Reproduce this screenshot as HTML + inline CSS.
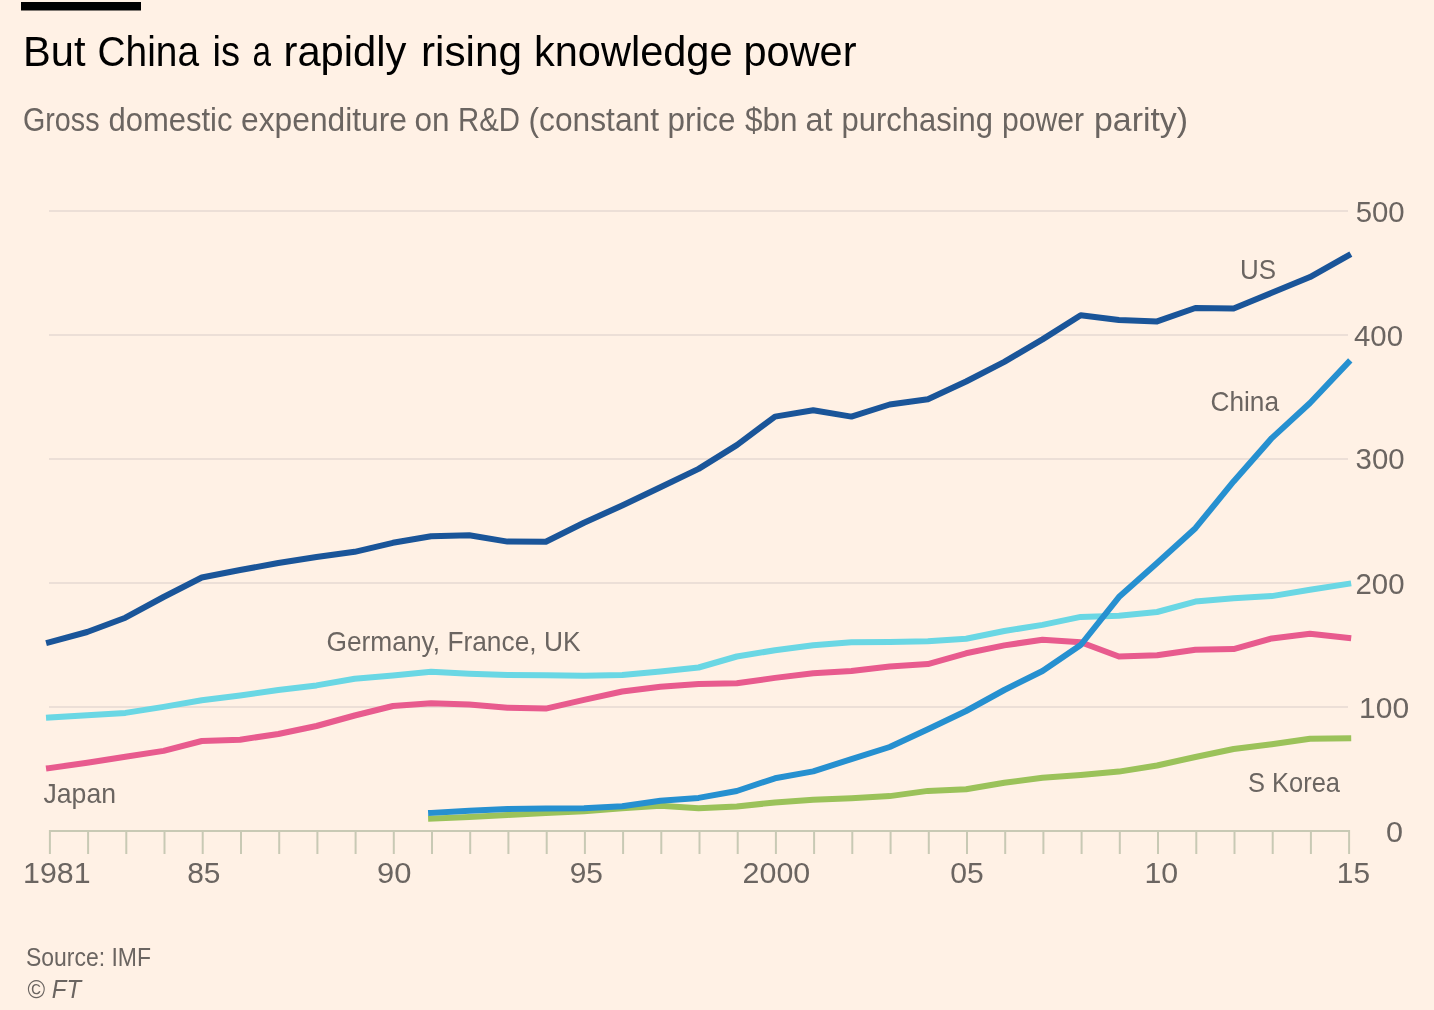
<!DOCTYPE html>
<html><head><meta charset="utf-8"><style>
html,body{margin:0;padding:0;background:#fff1e5;width:1434px;height:1010px;overflow:hidden}
svg{display:block;will-change:transform}
</style></head><body>
<svg width="1434" height="1010" viewBox="0 0 1434 1010" font-family="Liberation Sans">
<rect x="0" y="0" width="1434" height="1010" fill="#fff1e5"/>
<rect x="21" y="2" width="120" height="8.5" fill="#000"/>
<g stroke="#e6d8d2" stroke-width="1.6"><line x1="49" y1="707.0" x2="1348" y2="707.0"/><line x1="49" y1="583.0" x2="1348" y2="583.0"/><line x1="49" y1="459.0" x2="1348" y2="459.0"/><line x1="49" y1="335.0" x2="1348" y2="335.0"/><line x1="49" y1="211.0" x2="1348" y2="211.0"/></g>
<g stroke="#c8c9b4" stroke-width="2"><line x1="49.9" y1="830" x2="49.9" y2="854"/><line x1="88.1" y1="830" x2="88.1" y2="854"/><line x1="126.3" y1="830" x2="126.3" y2="854"/><line x1="164.5" y1="830" x2="164.5" y2="854"/><line x1="202.7" y1="830" x2="202.7" y2="854"/><line x1="241.0" y1="830" x2="241.0" y2="854"/><line x1="279.2" y1="830" x2="279.2" y2="854"/><line x1="317.4" y1="830" x2="317.4" y2="854"/><line x1="355.6" y1="830" x2="355.6" y2="854"/><line x1="393.8" y1="830" x2="393.8" y2="854"/><line x1="432.0" y1="830" x2="432.0" y2="854"/><line x1="470.2" y1="830" x2="470.2" y2="854"/><line x1="508.4" y1="830" x2="508.4" y2="854"/><line x1="546.7" y1="830" x2="546.7" y2="854"/><line x1="584.9" y1="830" x2="584.9" y2="854"/><line x1="623.1" y1="830" x2="623.1" y2="854"/><line x1="661.3" y1="830" x2="661.3" y2="854"/><line x1="699.5" y1="830" x2="699.5" y2="854"/><line x1="737.7" y1="830" x2="737.7" y2="854"/><line x1="775.9" y1="830" x2="775.9" y2="854"/><line x1="814.1" y1="830" x2="814.1" y2="854"/><line x1="852.3" y1="830" x2="852.3" y2="854"/><line x1="890.6" y1="830" x2="890.6" y2="854"/><line x1="928.8" y1="830" x2="928.8" y2="854"/><line x1="967.0" y1="830" x2="967.0" y2="854"/><line x1="1005.2" y1="830" x2="1005.2" y2="854"/><line x1="1043.4" y1="830" x2="1043.4" y2="854"/><line x1="1081.6" y1="830" x2="1081.6" y2="854"/><line x1="1119.8" y1="830" x2="1119.8" y2="854"/><line x1="1158.0" y1="830" x2="1158.0" y2="854"/><line x1="1196.3" y1="830" x2="1196.3" y2="854"/><line x1="1234.5" y1="830" x2="1234.5" y2="854"/><line x1="1272.7" y1="830" x2="1272.7" y2="854"/><line x1="1310.9" y1="830" x2="1310.9" y2="854"/><line x1="1349.1" y1="830" x2="1349.1" y2="854"/><line x1="49" y1="831" x2="1350" y2="831"/></g>
<g fill="none" stroke-width="6" stroke-linejoin="round" stroke-linecap="square">
<polyline stroke="#9bc25a" points="431.1,818.7 469.3,817.1 507.5,815.0 545.8,812.9 584.0,811.2 622.2,808.3 660.4,805.8 698.6,808.2 736.8,806.6 775.0,802.4 813.2,799.7 851.4,798.2 889.7,796.1 927.9,790.9 966.1,789.2 1004.3,782.8 1042.5,777.8 1080.7,774.9 1118.9,771.6 1157.1,765.5 1195.4,757.0 1233.6,749.0 1271.8,744.2 1310.0,738.7 1348.2,738.2"/>
<polyline stroke="#e85b8e" points="49.0,768.1 87.2,762.8 125.4,756.8 163.6,750.9 201.8,741.0 240.1,739.7 278.3,734.0 316.5,726.0 354.7,715.5 392.9,706.0 431.1,703.3 469.3,704.6 507.5,707.7 545.8,708.6 584.0,699.8 622.2,691.5 660.4,686.7 698.6,683.9 736.8,683.2 775.0,677.9 813.2,673.3 851.4,671.0 889.7,666.4 927.9,664.1 966.1,653.3 1004.3,645.4 1042.5,639.7 1080.7,642.2 1118.9,656.5 1157.1,655.3 1195.4,649.7 1233.6,649.1 1271.8,638.4 1310.0,633.7 1348.2,638.0"/>
<polyline stroke="#6ad7e4" points="49.0,717.6 87.2,715.2 125.4,712.9 163.6,706.9 201.8,700.2 240.1,695.5 278.3,690.0 316.5,685.4 354.7,678.7 392.9,675.4 431.1,671.8 469.3,673.7 507.5,674.9 545.8,675.3 584.0,675.8 622.2,674.9 660.4,671.5 698.6,667.5 736.8,656.5 775.0,650.3 813.2,645.3 851.4,642.2 889.7,642.0 927.9,641.2 966.1,638.8 1004.3,631.0 1042.5,624.9 1080.7,616.9 1118.9,615.7 1157.1,612.0 1195.4,601.6 1233.6,598.2 1271.8,596.1 1310.0,589.7 1348.2,583.8"/>
<polyline stroke="#1a5599" points="49.0,642.3 87.2,632.0 125.4,617.7 163.6,597.0 201.8,577.5 240.1,570.0 278.3,563.0 316.5,557.0 354.7,551.8 392.9,542.8 431.1,536.3 469.3,535.3 507.5,541.6 545.8,541.8 584.0,522.8 622.2,505.4 660.4,487.3 698.6,468.9 736.8,445.1 775.0,416.6 813.2,410.2 851.4,416.6 889.7,404.5 927.9,399.3 966.1,381.5 1004.3,361.8 1042.5,339.4 1080.7,315.2 1118.9,320.0 1157.1,321.4 1195.4,308.0 1233.6,308.5 1271.8,292.8 1310.0,277.1 1348.2,255.5"/>
<polyline stroke="#2690d0" points="431.1,812.9 469.3,810.8 507.5,809.1 545.8,808.5 584.0,808.3 622.2,806.2 660.4,800.8 698.6,797.9 736.8,791.0 775.0,778.3 813.2,771.4 851.4,759.1 889.7,747.0 927.9,729.2 966.1,711.0 1004.3,690.0 1042.5,671.0 1080.7,645.0 1118.9,597.1 1157.1,563.0 1195.4,528.2 1233.6,481.4 1271.8,438.1 1310.0,403.0 1348.2,362.6"/>
</g>
<text x="23.0" y="66.4" font-size="42.3" fill="#000000" text-anchor="start" textLength="62.5" lengthAdjust="spacingAndGlyphs">But</text><text x="97.5" y="66.4" font-size="42.3" fill="#000000" text-anchor="start" textLength="101.5" lengthAdjust="spacingAndGlyphs">China</text><text x="212.5" y="66.4" font-size="42.3" fill="#000000" text-anchor="start" textLength="27.5" lengthAdjust="spacingAndGlyphs">is</text><text x="252.5" y="66.4" font-size="42.3" fill="#000000" text-anchor="start" textLength="18.5" lengthAdjust="spacingAndGlyphs">a</text><text x="283.5" y="66.4" font-size="42.3" fill="#000000" text-anchor="start" textLength="123.0" lengthAdjust="spacingAndGlyphs">rapidly</text><text x="421.0" y="66.4" font-size="42.3" fill="#000000" text-anchor="start" textLength="101.0" lengthAdjust="spacingAndGlyphs">rising</text><text x="534.0" y="66.4" font-size="42.3" fill="#000000" text-anchor="start" textLength="198.5" lengthAdjust="spacingAndGlyphs">knowledge</text><text x="743.5" y="66.4" font-size="42.3" fill="#000000" text-anchor="start" textLength="113.0" lengthAdjust="spacingAndGlyphs">power</text><text x="23.0" y="130.8" font-size="32.4" fill="#6b6561" text-anchor="start" textLength="76.5" lengthAdjust="spacingAndGlyphs">Gross</text><text x="108.5" y="130.8" font-size="32.4" fill="#6b6561" text-anchor="start" textLength="124.0" lengthAdjust="spacingAndGlyphs">domestic</text><text x="241.0" y="130.8" font-size="32.4" fill="#6b6561" text-anchor="start" textLength="166.0" lengthAdjust="spacingAndGlyphs">expenditure</text><text x="414.5" y="130.8" font-size="32.4" fill="#6b6561" text-anchor="start" textLength="35.0" lengthAdjust="spacingAndGlyphs">on</text><text x="458.0" y="130.8" font-size="32.4" fill="#6b6561" text-anchor="start" textLength="62.0" lengthAdjust="spacingAndGlyphs">R&amp;D</text><text x="528.5" y="130.8" font-size="32.4" fill="#6b6561" text-anchor="start" textLength="130.5" lengthAdjust="spacingAndGlyphs">(constant</text><text x="667.5" y="130.8" font-size="32.4" fill="#6b6561" text-anchor="start" textLength="68.0" lengthAdjust="spacingAndGlyphs">price</text><text x="745.0" y="130.8" font-size="32.4" fill="#6b6561" text-anchor="start" textLength="52.5" lengthAdjust="spacingAndGlyphs">$bn</text><text x="805.5" y="130.8" font-size="32.4" fill="#6b6561" text-anchor="start" textLength="27.0" lengthAdjust="spacingAndGlyphs">at</text><text x="841.5" y="130.8" font-size="32.4" fill="#6b6561" text-anchor="start" textLength="151.5" lengthAdjust="spacingAndGlyphs">purchasing</text><text x="1002.0" y="130.8" font-size="32.4" fill="#6b6561" text-anchor="start" textLength="82.0" lengthAdjust="spacingAndGlyphs">power</text><text x="1094.0" y="130.8" font-size="32.4" fill="#6b6561" text-anchor="start" textLength="94.0" lengthAdjust="spacingAndGlyphs">parity)</text><text x="1355.7" y="221.6" font-size="29" fill="#6b6561" text-anchor="start" textLength="49" lengthAdjust="spacingAndGlyphs">500</text><text x="1354.0" y="345.8" font-size="29" fill="#6b6561" text-anchor="start" textLength="49" lengthAdjust="spacingAndGlyphs">400</text><text x="1355.6" y="469.3" font-size="29" fill="#6b6561" text-anchor="start" textLength="49" lengthAdjust="spacingAndGlyphs">300</text><text x="1355.5" y="594.2" font-size="29" fill="#6b6561" text-anchor="start" textLength="49" lengthAdjust="spacingAndGlyphs">200</text><text x="1359.1" y="718.2" font-size="29" fill="#6b6561" text-anchor="start" textLength="50" lengthAdjust="spacingAndGlyphs">100</text><text x="1386" y="841.6" font-size="29" fill="#6b6561" text-anchor="start" textLength="17" lengthAdjust="spacingAndGlyphs">0</text><text x="23.1" y="882.8" font-size="29" fill="#6b6561" text-anchor="start" textLength="67.4" lengthAdjust="spacingAndGlyphs">1981</text><text x="187.2" y="882.8" font-size="29" fill="#6b6561" text-anchor="start" textLength="33.3" lengthAdjust="spacingAndGlyphs">85</text><text x="377.0" y="882.8" font-size="29" fill="#6b6561" text-anchor="start" textLength="34.4" lengthAdjust="spacingAndGlyphs">90</text><text x="569.7" y="882.8" font-size="29" fill="#6b6561" text-anchor="start" textLength="33.3" lengthAdjust="spacingAndGlyphs">95</text><text x="742.6" y="882.8" font-size="29" fill="#6b6561" text-anchor="start" textLength="67.6" lengthAdjust="spacingAndGlyphs">2000</text><text x="950.3" y="882.8" font-size="29" fill="#6b6561" text-anchor="start" textLength="33.5" lengthAdjust="spacingAndGlyphs">05</text><text x="1144.5" y="882.8" font-size="29" fill="#6b6561" text-anchor="start" textLength="33.7" lengthAdjust="spacingAndGlyphs">10</text><text x="1336.8" y="882.8" font-size="29" fill="#6b6561" text-anchor="start" textLength="33.2" lengthAdjust="spacingAndGlyphs">15</text><text x="1240" y="278.5" font-size="28" fill="#6b6561" text-anchor="start" textLength="36" lengthAdjust="spacingAndGlyphs">US</text><text x="1210.5" y="410.6" font-size="28" fill="#6b6561" text-anchor="start" textLength="68.5" lengthAdjust="spacingAndGlyphs">China</text><text x="326.5" y="651.4" font-size="28" fill="#6b6561" text-anchor="start" textLength="254" lengthAdjust="spacingAndGlyphs">Germany, France, UK</text><text x="43.5" y="803.3" font-size="28" fill="#6b6561" text-anchor="start" textLength="72.5" lengthAdjust="spacingAndGlyphs">Japan</text><text x="1248" y="791.7" font-size="28" fill="#6b6561" text-anchor="start" textLength="92" lengthAdjust="spacingAndGlyphs">S Korea</text><text x="26" y="966.2" font-size="25.5" fill="#6b6561" text-anchor="start" textLength="125" lengthAdjust="spacingAndGlyphs">Source: IMF</text><text x="27.5" y="998" font-size="25.5" fill="#6b6561" text-anchor="start" textLength="53.5" lengthAdjust="spacingAndGlyphs">&#169; <tspan font-style="italic">FT</tspan></text>
</svg>
</body></html>
